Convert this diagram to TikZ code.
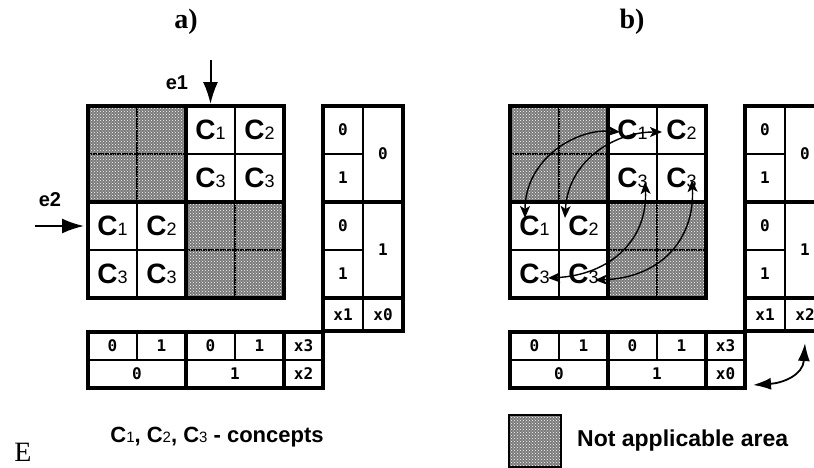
\documentclass[tikz,border=0pt]{standalone}
\usepackage{fontspec}
\setmainfont{Liberation Serif}
\setsansfont{Liberation Sans}
\newfontfamily\tabfont{DejaVu Sans Mono Bold}
\usetikzlibrary{arrows.meta,calc,patterns,positioning}
\newcommand{\cc}[1]{C{\mdseries\fontsize{18}{18}\selectfont #1}}
\newcommand{\lc}[1]{C{\mdseries\fontsize{15}{15}\selectfont #1}}

\begin{document}
\begin{tikzpicture}[x=1pt,y=-1pt]
	\tikzset{cell/.style={draw, line width=1.4pt, minimum width=49pt, minimum height=48pt, inner sep=0pt, outer sep=0pt, font=\sffamily\bfseries\fontsize{28}{28}\selectfont},
		nacell/.style={cell, densely dotted, preaction={fill=black!52}, pattern=crosshatch dots, pattern color=white},
		tab/.style={draw, line width=1.4pt, inner sep=0pt, outer sep=0pt, font=\tabfont\fontsize{16}{16}\selectfont},
		lcell/.style={tab, minimum width=40pt, minimum height=48pt},
		mcell/.style={tab, minimum width=40pt, minimum height=96pt, anchor=north west},
		xcell/.style={tab, minimum width=40pt, minimum height=33pt},
		bcell/.style={tab, minimum width=49pt, minimum height=28pt},
		wcell/.style={tab, minimum width=98pt, minimum height=28pt},
		ycell/.style={tab, minimum width=39pt, minimum height=28pt},
		boldline/.style={line width=3.5pt},
		bigarrow/.style={line width=2pt, -{Latex[length=22pt,width=15pt]}},
		swaparrow/.style={line width=1.4pt, {Stealth[length=12pt,width=10pt,inset=3pt]}-{Stealth[length=12pt,width=10pt,inset=3pt]}},
		xarrow/.style={line width=1.8pt, {Latex[length=18pt,width=12pt]}-{Latex[length=18pt,width=12pt]}},
		elabel/.style={font=\sffamily\bfseries\fontsize{20}{20}\selectfont},
		lgtext/.style={font=\sffamily\bfseries\fontsize{22}{22}\selectfont, inner sep=0pt},
	}
	\useasboundingbox (0,0) rectangle (814,467);
	\clip (0,0) rectangle (814,467);
	% a)
	\node[font=\bfseries\fontsize{28}{28}\selectfont] (lbla) at (186,22) {a)};
	\node[nacell] (a11) at (112.5,130) {};
	\node[nacell, right=0pt of a11] (a12) {};
	\node[cell, right=0pt of a12] (a13) {\cc{1}};
	\node[cell, right=0pt of a13] (a14) {\cc{2}};
	\node[nacell, below=0pt of a11] (a21) {};
	\node[nacell, right=0pt of a21] (a22) {};
	\node[cell, right=0pt of a22] (a23) {\cc{3}};
	\node[cell, right=0pt of a23] (a24) {\cc{3}};
	\node[cell, below=0pt of a21] (a31) {\cc{1}};
	\node[cell, right=0pt of a31] (a32) {\cc{2}};
	\node[nacell, right=0pt of a32] (a33) {};
	\node[nacell, right=0pt of a33] (a34) {};
	\node[cell, below=0pt of a31] (a41) {\cc{3}};
	\node[cell, right=0pt of a41] (a42) {\cc{3}};
	\node[nacell, right=0pt of a42] (a43) {};
	\node[nacell, right=0pt of a43] (a44) {};
	\node[lcell] (ar1) at (343,130) {0};
	\node[lcell, below=0pt of ar1] (ar2) {1};
	\node[lcell, below=0pt of ar2] (ar3) {0};
	\node[lcell, below=0pt of ar3] (ar4) {1};
	\node[mcell] (am1) at (ar1.north east) {0};
	\node[mcell] (am2) at (ar3.north east) {1};
	\node[xcell, below=0pt of ar4] (ax1) {x1};
	\node[xcell, right=0pt of ax1] (ax0) {x0};
	\node[bcell] (ab1) at (112.5,346) {0};
	\node[bcell, right=0pt of ab1] (ab2) {1};
	\node[bcell, right=0pt of ab2] (ab3) {0};
	\node[bcell, right=0pt of ab3] (ab4) {1};
	\node[ycell, right=0pt of ab4] (ax3) {x3};
	\node[wcell, anchor=north west] (aw1) at (ab1.south west) {0};
	\node[wcell, right=0pt of aw1] (aw2) {1};
	\node[ycell, right=0pt of aw2] (ax2) {x2};
	\draw[boldline] (a11.north west) rectangle (a44.south east);
	\draw[boldline] (a13.north west) -- (a43.south west);
	\draw[boldline] (a31.north west) -- (a34.north east);
	\draw[boldline] (ar1.north west) rectangle (ax0.south east);
	\draw[boldline] (ar3.north west) -- (am2.north east);
	\draw[boldline] (ax1.north west) -- (ax0.north east);
	\draw[boldline] (ab1.north west) rectangle (ax2.south east);
	\draw[boldline] (ab3.north west) -- (aw2.south west);
	\draw[boldline] (ax3.north west) -- (ax2.south west);
	\coordinate (e1top) at (210.5,60);
	\coordinate (e2left) at (35,226);
	\draw[bigarrow, shorten >=2pt] (e1top) -- (a13.north);
	\draw[bigarrow, shorten >=4pt] (e2left) -- (a31.west);
	\node[elabel] (e1) at (177,83) {e1};
	\node[elabel] (e2) at (50,200) {e2};
	% b)
	\node[font=\bfseries\fontsize{28}{28}\selectfont] (lblb) at (632,22) {b)};
	\node[nacell] (b11) at (534.5,130) {};
	\node[nacell, right=0pt of b11] (b12) {};
	\node[cell, right=0pt of b12] (b13) {\cc{1}};
	\node[cell, right=0pt of b13] (b14) {\cc{2}};
	\node[nacell, below=0pt of b11] (b21) {};
	\node[nacell, right=0pt of b21] (b22) {};
	\node[cell, right=0pt of b22] (b23) {\cc{3}};
	\node[cell, right=0pt of b23] (b24) {\cc{3}};
	\node[cell, below=0pt of b21] (b31) {\cc{1}};
	\node[cell, right=0pt of b31] (b32) {\cc{2}};
	\node[nacell, right=0pt of b32] (b33) {};
	\node[nacell, right=0pt of b33] (b34) {};
	\node[cell, below=0pt of b31] (b41) {\cc{3}};
	\node[cell, right=0pt of b41] (b42) {\cc{3}};
	\node[nacell, right=0pt of b42] (b43) {};
	\node[nacell, right=0pt of b43] (b44) {};
	\node[lcell] (br1) at (765,130) {0};
	\node[lcell, below=0pt of br1] (br2) {1};
	\node[lcell, below=0pt of br2] (br3) {0};
	\node[lcell, below=0pt of br3] (br4) {1};
	\node[mcell] (bm1) at (br1.north east) {0};
	\node[mcell] (bm2) at (br3.north east) {1};
	\node[xcell, below=0pt of br4] (bx1) {x1};
	\node[xcell, right=0pt of bx1] (bx2) {x2};
	\node[bcell] (bb1) at (534.5,346) {0};
	\node[bcell, right=0pt of bb1] (bb2) {1};
	\node[bcell, right=0pt of bb2] (bb3) {0};
	\node[bcell, right=0pt of bb3] (bb4) {1};
	\node[ycell, right=0pt of bb4] (bx3) {x3};
	\node[wcell, anchor=north west] (bw1) at (bb1.south west) {0};
	\node[wcell, right=0pt of bw1] (bw2) {1};
	\node[ycell, right=0pt of bw2] (bx0) {x0};
	\draw[boldline] (b11.north west) rectangle (b44.south east);
	\draw[boldline] (b13.north west) -- (b43.south west);
	\draw[boldline] (b31.north west) -- (b34.north east);
	\draw[boldline] (br1.north west) rectangle (bx2.south east);
	\draw[boldline] (br3.north west) -- (bm2.north east);
	\draw[boldline] (bx1.north west) -- (bx2.north east);
	\draw[boldline] (bb1.north west) rectangle (bx0.south east);
	\draw[boldline] (bb3.north west) -- (bw2.south west);
	\draw[boldline] (bx3.north west) -- (bx0.south west);
	\draw[swaparrow] ($(b13)+(-12.5,2)$) .. controls ($(b13)+(-57.5,-2)$) and ($(b31)+(-9.5,-66)$) .. ($(b31)+(-9.5,-8)$);
	\draw[swaparrow] ($(b14)+(-19.5,2)$) .. controls ($(b14)+(-66.5,2)$) and ($(b32)+(-15.5,-66)$) .. ($(b32)+(-18.5,-8)$);
	\draw[swaparrow] ($(b23)+(12.5,4)$) .. controls ($(b23)+(15.5,62)$) and ($(b41)+(75.5,1)$) .. ($(b41)+(13.5,4)$);
	\draw[swaparrow] ($(b24)+(10.5,2)$) .. controls ($(b24)+(13.5,62)$) and ($(b42)+(76.5,4)$) .. ($(b42)+(11.5,6)$);
	\draw[xarrow] ($(bx0.south east)+(8,-3)$) .. controls ($(bx0.south east)+(38,-5)$) and ($(bx2.south)+(-2,44)$) .. ($(bx2.south)+(0,12)$);
	% legend
	\node[font=\fontsize{28}{28}\selectfont] (ee) at (23,452) {E};
	\node[lgtext] (legc) at (217,437) {\lc{1}, \lc{2}, \lc{3} - concepts};
	\node[nacell, solid, minimum width=52pt, minimum height=52pt] (legbox) at (535,441) {};
	\node[lgtext, font=\sffamily\bfseries\fontsize{23}{23}\selectfont, right=16pt of legbox] (legna) {Not applicable area};
\end{tikzpicture}
\end{document}
